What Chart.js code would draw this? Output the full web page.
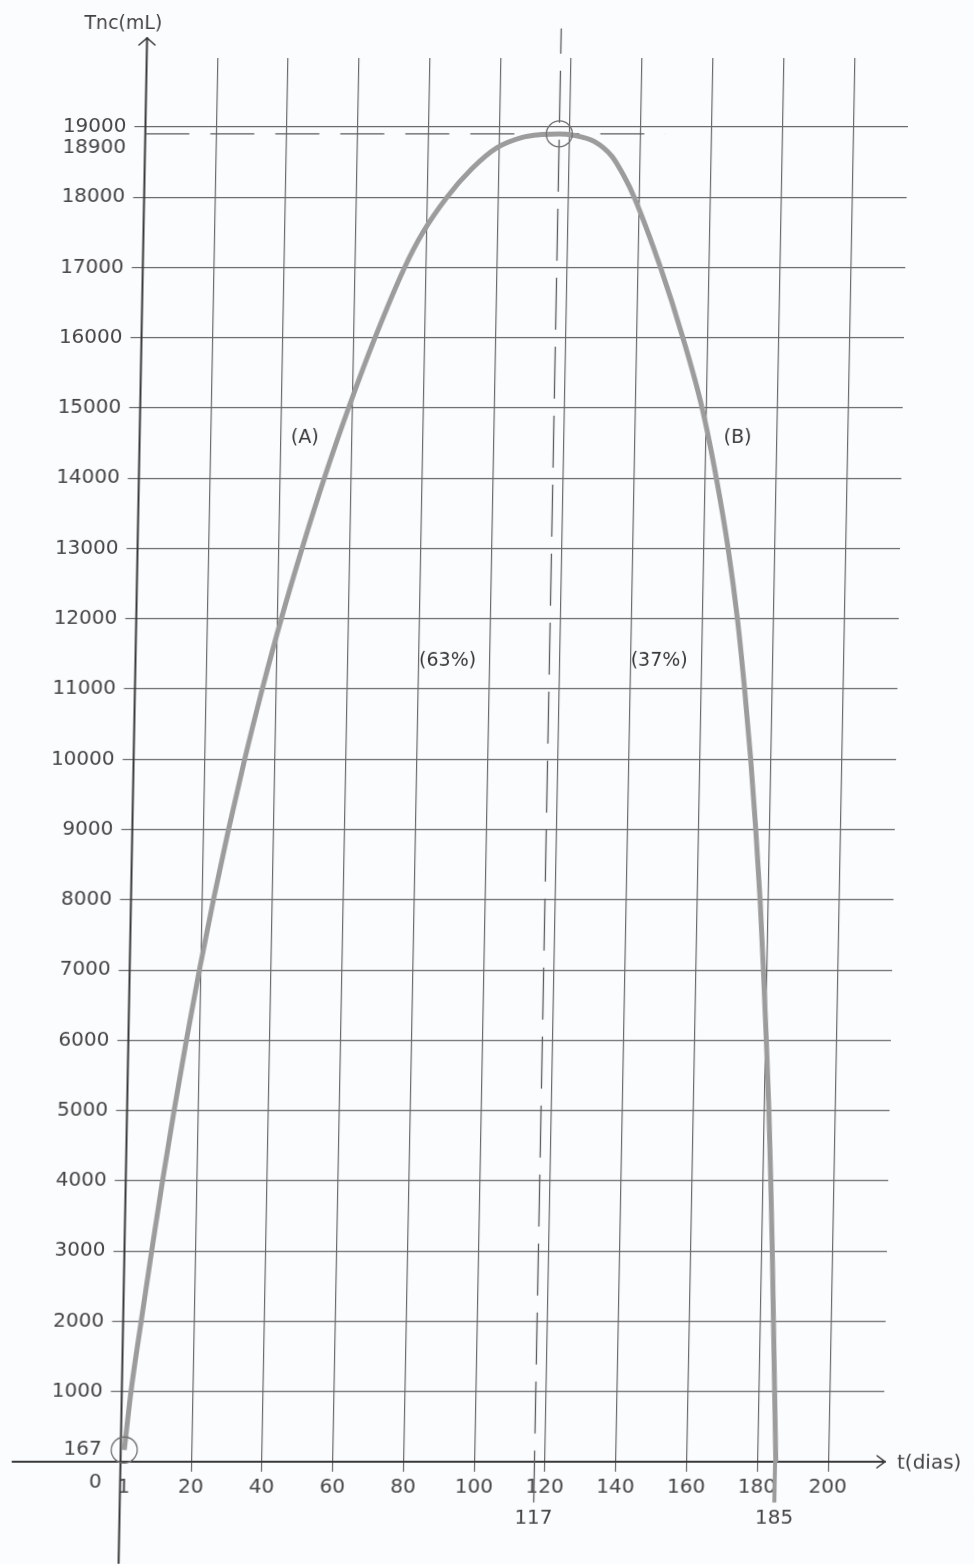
<!DOCTYPE html>
<html><head><meta charset="utf-8">
<script src="https://cdn.jsdelivr.net/npm/chart.js@4.4.1/dist/chart.umd.min.js"></script>
<style>
html,body{margin:0;padding:0;background:#fbfcfe;overflow:hidden}
#wrap{width:974px;height:1564px;transform:skewX(-1.07deg);transform-origin:0 1462px}
canvas{display:block}
</style></head><body>
<div id="wrap"><canvas id="c" width="974" height="1564"></canvas></div>
<script>
// ---- data ----
const tDias  = [1, 2.6, 5.1, 7.7, 10.4, 13.3, 16.4, 19.7, 23.3, 27.2, 31.4, 36.0, 41.0, 46.5, 52.4, 58.9, 66.0, 74.0, 79.0, 85.6, 92.4, 99.4, 106.6, 112, 117, 121, 127, 132, 135.5, 138.5, 146.3, 153.0, 158.8, 163.2, 166.9, 169.9, 172.3, 174.4, 176.2, 177.8, 179.1, 180.3, 181.4, 182.3, 183.1, 183.8, 184.5, 185.2];
const tncML  = [167, 1000, 2000, 3000, 4000, 5000, 6000, 7000, 8000, 9000, 10000, 11000, 12000, 13000, 14000, 15000, 16000, 17000, 17500, 18000, 18400, 18700, 18850, 18890, 18900, 18880, 18790, 18580, 18300, 18000, 17000, 16000, 15000, 14000, 13000, 12000, 11000, 10000, 9000, 8000, 7000, 6000, 5000, 4000, 3000, 2000, 1000, 0];
const xTickValues = [1, 20, 40, 60, 80, 100, 117, 120, 140, 160, 180, 185, 200];
const xTickLabels = ['1', '20', '40', '60', '80', '100', ['', '117'], '120', '140', '160', '180', ['', '185'], '200'];
const xGridValues = [20, 40, 60, 80, 100, 120, 140, 160, 180, 200];
const yTickValues = [167, 1000, 2000, 3000, 4000, 5000, 6000, 7000, 8000, 9000, 10000, 11000, 12000, 13000, 14000, 15000, 16000, 17000, 18000, 18900, 19000];
const yTickLabels = ['167', '1000', '2000', '3000', '4000', '5000', '6000', '7000', '8000', '9000', '10000', '11000', '12000', '13000', '14000', '15000', '16000', '17000', '18000', ['', '18900'], '19000'];
const yGridValues = [1000, 2000, 3000, 4000, 5000, 6000, 7000, 8000, 9000, 10000, 11000, 12000, 13000, 14000, 15000, 16000, 17000, 18000, 19000];
const markedT   = [1, 117];
const markedTnc = [167, 18900];
const peakT = 117, peakTnc = 18900, endT = 185;
const regionLabels = ['(A)', '(B)', '(63%)', '(37%)'];
const regionT      = [46.7, 169, 88.2, 148];
const regionTnc    = [14575, 14575, 11400, 11400];
const xTitle = 't(dias)', yTitle = 'Tnc(mL)', originLabel = '0';

// ---- styles ----
const FONT = 'DejaVu Sans';
const INK = '#454545', GRID = '#6a6a6a', CURVE = '#9c9c9c';

const xGridSet = new Set(xGridValues), yGridSet = new Set(yGridValues);

const paper = {
  id: 'paper',
  beforeDraw(chart) {
    const c = chart.ctx; c.save(); c.fillStyle = '#fbfcfe'; c.fillRect(0, 0, chart.width, chart.height); c.restore();
  },
  beforeDatasetsDraw(chart) {
    const { ctx, scales: { x, y } } = chart;
    const ox = x.getPixelForValue(0), oy = y.getPixelForValue(0);
    ctx.save();
    ctx.strokeStyle = '#383838'; ctx.lineWidth = 2; ctx.lineCap = 'round';
    const xr = x.right + 2;
    ctx.beginPath(); ctx.moveTo(ox - 108, oy); ctx.lineTo(xr, oy); ctx.stroke();
    ctx.lineWidth = 1.5;
    ctx.beginPath(); ctx.moveTo(xr - 8, oy - 6); ctx.lineTo(xr, oy); ctx.lineTo(xr - 8, oy + 6); ctx.stroke();
    ctx.lineWidth = 2;
    const yt = 38;
    ctx.beginPath(); ctx.moveTo(ox, chart.height); ctx.lineTo(ox, yt); ctx.stroke();
    ctx.lineWidth = 1.5;
    ctx.beginPath(); ctx.moveTo(ox - 8, yt + 7); ctx.lineTo(ox, yt); ctx.lineTo(ox + 8, yt + 7); ctx.stroke();
    ctx.restore();
  },
  afterDraw(chart) {
    const { ctx, scales: { x, y } } = chart;
    const ox = x.getPixelForValue(0), oy = y.getPixelForValue(0);
    ctx.save();
    ctx.fillStyle = INK;
    ctx.font = '19px "' + FONT + '"';
    ctx.textAlign = 'center'; ctx.textBaseline = 'middle';
    ctx.fillText(yTitle, ox - 24, 24);
    ctx.font = '20px "' + FONT + '"';
    ctx.textAlign = 'left';
    ctx.fillText(xTitle, x.right + 14, oy + 2);
    ctx.textAlign = 'center';
    ctx.fillText(originLabel, ox - 25, oy + 21);
    ctx.fillStyle = '#383838';
    ctx.font = '19px "' + FONT + '"';
    regionLabels.forEach((t, i) => {
      ctx.fillText(t, x.getPixelForValue(regionT[i]), y.getPixelForValue(regionTnc[i]));
    });
    ctx.restore();
  }
};

new Chart(document.getElementById('c'), {
  type: 'scatter',
  data: {
    datasets: [
      { data: tDias.map((t, i) => ({ x: t, y: tncML[i] })), showLine: true, borderColor: CURVE, borderWidth: 5,
        pointRadius: 0, cubicInterpolationMode: 'monotone', clip: false, order: 1 },
      { data: [{ x: endT, y: 0 }, { x: endT, y: -580 }], showLine: true, borderColor: CURVE, borderWidth: 4,
        pointRadius: 0, clip: false, order: 2 },
      { data: [{ x: peakT, y: -580 }, { x: peakT, y: 20400 }], showLine: true, borderColor: '#5c5c5c', borderWidth: 1.3,
        borderDash: [52, 17], pointRadius: 0, clip: false, order: 3 },
      { data: [{ x: 0, y: peakTnc }, { x: 147, y: peakTnc }], showLine: true, borderColor: '#5c5c5c', borderWidth: 1.3,
        borderDash: [44, 21], pointRadius: 0, clip: false, order: 3 },
      { data: markedT.map((t, i) => ({ x: t, y: markedTnc[i] })), showLine: false, pointRadius: 13,
        pointBorderColor: '#707070', pointBorderWidth: 1.3, pointBackgroundColor: 'rgba(0,0,0,0)', clip: false, order: 0 }
    ]
  },
  options: {
    responsive: false, animation: false, devicePixelRatio: 1,
    layout: { padding: { left: 0, top: 58, right: 91, bottom: 0 } },
    plugins: { legend: { display: false }, tooltip: { enabled: false } },
    scales: {
      x: {
        type: 'linear', min: 0, max: 215.5,
        afterFit: s => { s.height = 102; },
        afterBuildTicks: s => { s.ticks = xTickValues.map(v => ({ value: v })); },
        border: { display: false },
        grid: {
          color: c => (c.tick && xGridSet.has(c.tick.value)) ? GRID : 'rgba(0,0,0,0)',
          tickColor: c => (c.tick && xGridSet.has(c.tick.value)) ? GRID : 'rgba(0,0,0,0)',
          lineWidth: 1.2, tickWidth: 1.2, tickLength: 10
        },
        ticks: {
          autoSkip: false, maxRotation: 0, minRotation: 0, padding: 0, color: INK,
          font: { family: FONT, size: 20, lineHeight: 1.55 },
          callback: v => { const i = xTickValues.indexOf(v); return i < 0 ? '' : xTickLabels[i]; }
        }
      },
      y: {
        type: 'linear', min: 0, max: 19980,
        afterFit: s => { s.width = 120.5; },
        afterBuildTicks: s => { s.ticks = yTickValues.map(v => ({ value: v })); },
        border: { display: false },
        grid: {
          color: c => (c.tick && yGridSet.has(c.tick.value)) ? GRID : 'rgba(0,0,0,0)',
          tickColor: c => (c.tick && yGridSet.has(c.tick.value)) ? GRID : 'rgba(0,0,0,0)',
          lineWidth: 1.2, tickWidth: 1.2, tickLength: 11
        },
        ticks: {
          autoSkip: false, padding: 8, color: INK,
          font: { family: FONT, size: 20, lineHeight: 1.4 },
          callback: v => { const i = yTickValues.indexOf(v); return i < 0 ? '' : yTickLabels[i]; }
        }
      }
    }
  },
  plugins: [paper]
});
</script>
</body></html>
